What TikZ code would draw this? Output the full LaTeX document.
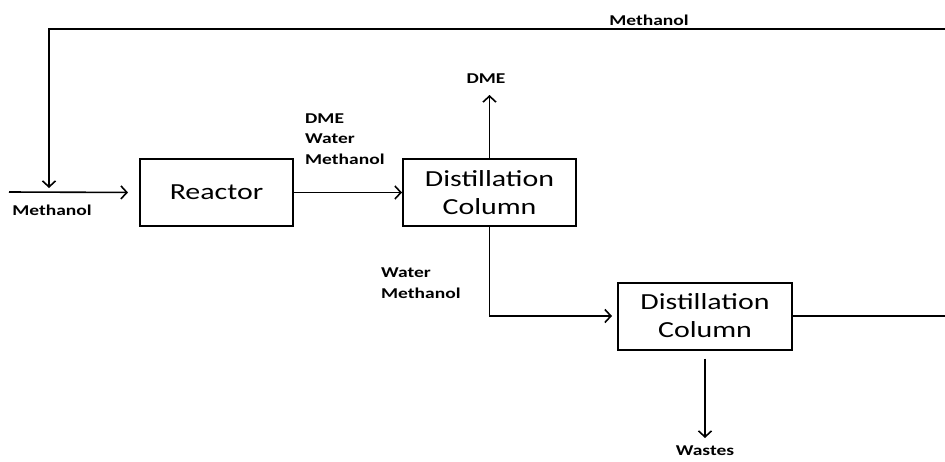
\documentclass[tikz,border=0pt]{standalone}
\usepackage{fontspec}
\setmainfont{Carlito}[FakeStretch=1.3]
\usepackage{tikz}
\usetikzlibrary{arrows.meta,positioning}
\tikzstyle{unit} = [draw, rectangle, line width=2pt, minimum height=67pt,
    inner sep=0pt, align=center, font=\fontsize{23}{28}\selectfont]
\tikzstyle{stream} = [inner sep=0pt, align=left,
    font=\bfseries\fontsize{15}{20.5}\selectfont]
\tikzstyle{line} = [draw, line width=1.6pt, -{Straight Barb[length=6pt,width=13pt]}]

\begin{document}
\begin{tikzpicture}[x=1pt, y=-1pt, node distance=273pt]
  \useasboundingbox (0,0) rectangle (945,461);
  \node [unit, minimum width=153pt] at (216.5,192.5) (reac) {Reactor};
  \node [unit, minimum width=173pt, right of=reac] (dc1) {Distillation\\Column};
  \node [unit, minimum width=174pt] at (705,316) (dc2) {Distillation\\Column};
  % stream ends
  \coordinate (feed) at (9,192);
  \coordinate (mix) at (49,188);
  \coordinate (recyc) at (945,29);
  \coordinate (bottoms) at (945,316);
  \coordinate (top) at (489.5,95);
  \coordinate (waste) at (705,438);
  % labels
  \node [stream] at (52,210) (lfeed) {Methanol};
  \node [stream] at (649,20) (lrecyc) {Methanol};
  \node [stream, anchor=west] at (305,139) (lreac) {DME\\Water\\Methanol};
  \node [stream] at (486,79) (ltop) {DME};
  \node [stream, anchor=west] at (381,283) (lbot) {Water\\Methanol};
  \node [stream] at (705,451) (lwaste) {Wastes};
  % streams
  \draw [line, shorten >=11pt] (feed) -- (reac.west);
  \draw [line] (recyc) -| (mix);
  \draw [line] (reac.east) -- (dc1.west);
  \draw [line] (dc1.north) -- (top);
  \draw [line, shorten >=5pt] (dc1.south) |- (dc2.west);
  \draw [line, -] (dc2.east) -- (bottoms);
  \draw [line] ([yshift=-8pt]dc2.south) -- (waste);
\end{tikzpicture}
\end{document}
